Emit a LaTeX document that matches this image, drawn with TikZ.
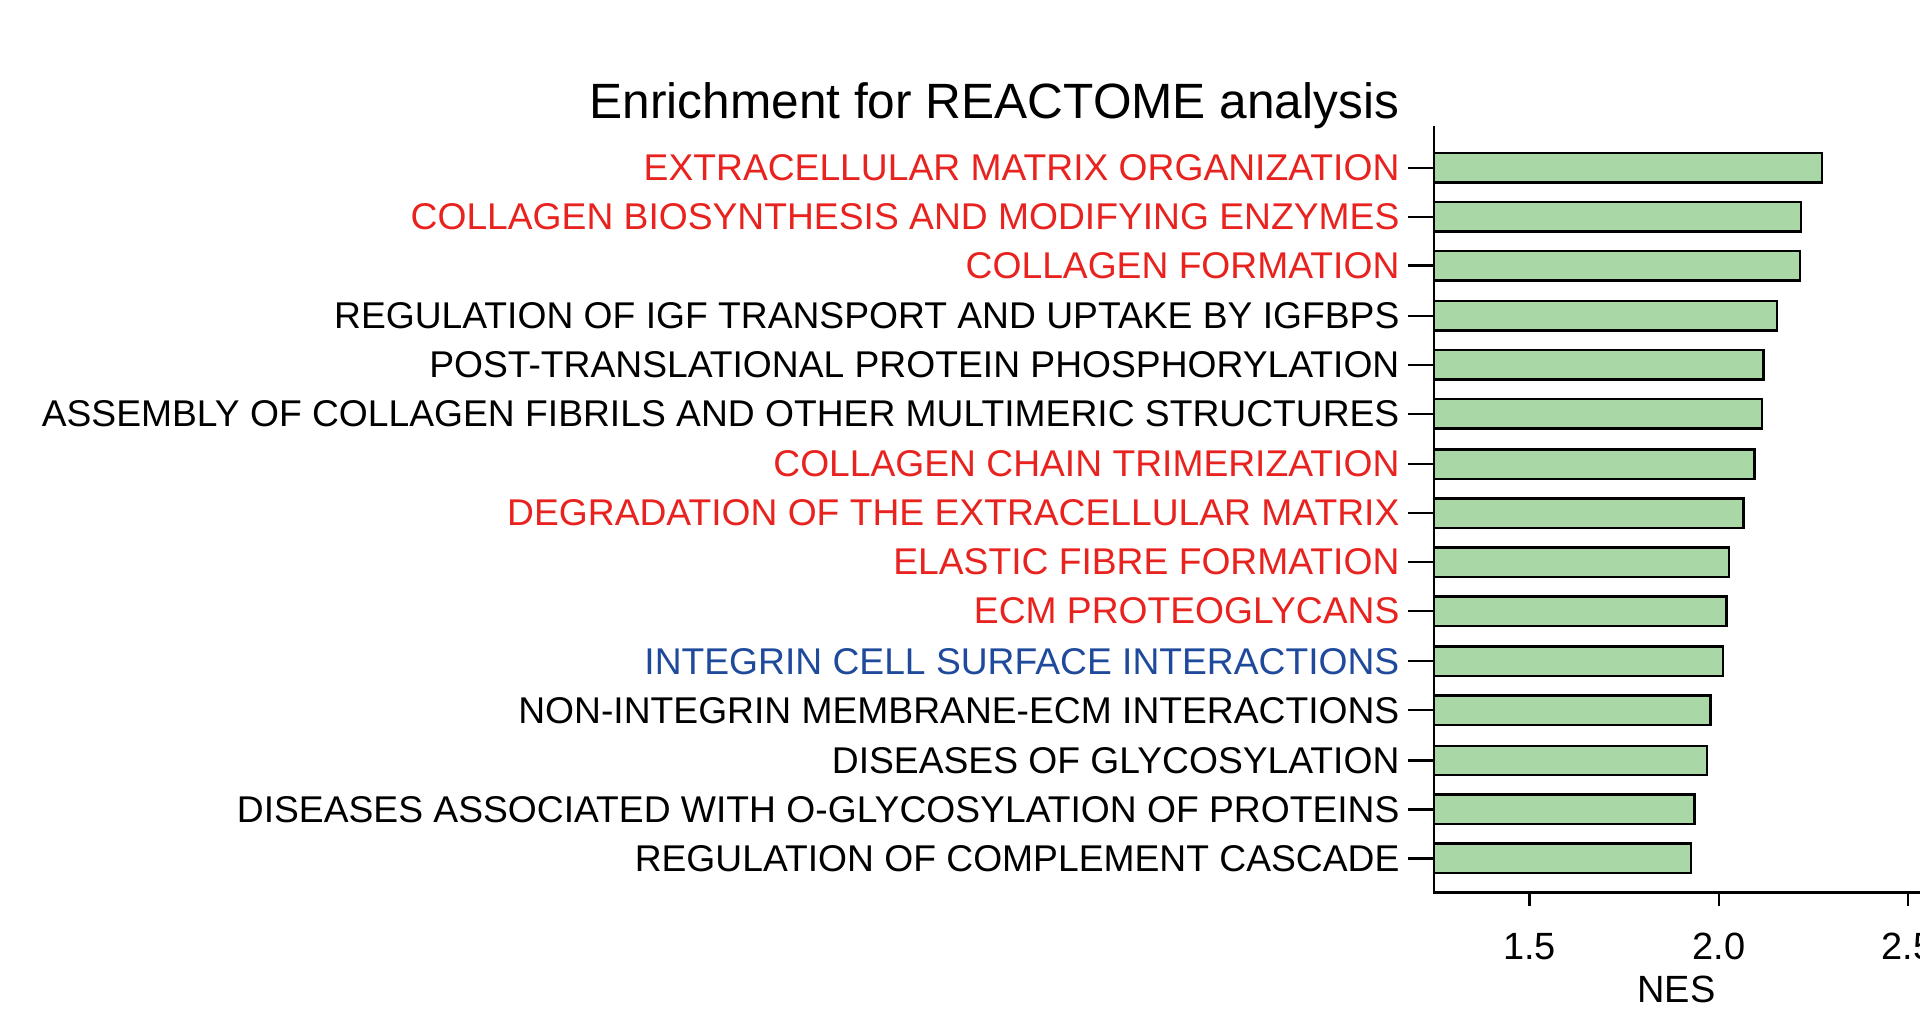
\documentclass[tikz,border=0pt]{standalone}
\usepackage{fontspec}
\setmainfont{Liberation Sans}
\definecolor{barg}{HTML}{A9D8A6}
\definecolor{lred}{HTML}{E8231F}
\definecolor{lblue}{HTML}{1F4A9C}
\tikzset{bar/.style={draw=black,line width=2pt,fill=barg},
lab/.style={anchor=east,font=\fontsize{30.4}{32}\selectfont,inner sep=0pt},
ax/.style={line width=2pt}}
\begin{document}
\begin{tikzpicture}[x=1pt,y=-1pt]
\useasboundingbox (0,0) rectangle (1568,831);
\clip (0,0) rectangle (1568,831);
\node[font=\fontsize{40.5}{44}\selectfont,inner sep=0pt] (title) at (812,86) {Enrichment for REACTOME analysis};
\draw[ax] (1171,103) -- (1171,729) -- (1570,729);
\foreach \x/\t in {1249/1.5,1404/2.0,1558/2.5}{
  \draw[ax] (\x,729) -- (\x,740);
  \node[font=\fontsize{31}{33}\selectfont,inner sep=0pt] at (\x,773) {\t};}
\node[font=\fontsize{31}{33}\selectfont,inner sep=0pt] (nes) at (1369,808) {NES};
\foreach \y/\e/\c/\t [count=\i] in {
137/1488/lred/EXTRACELLULAR MATRIX ORGANIZATION,
177/1471/lred/COLLAGEN BIOSYNTHESIS AND MODIFYING ENZYMES,
217/1470/lred/COLLAGEN FORMATION,
258/1451/black/REGULATION OF IGF TRANSPORT AND UPTAKE BY IGFBPS,
298/1440/black/POST-TRANSLATIONAL PROTEIN PHOSPHORYLATION,
338/1439/black/ASSEMBLY OF COLLAGEN FIBRILS AND OTHER MULTIMERIC STRUCTURES,
379/1433/lred/COLLAGEN CHAIN TRIMERIZATION,
419/1424/lred/DEGRADATION OF THE EXTRACELLULAR MATRIX,
459/1412/lred/ELASTIC FIBRE FORMATION,
499/1410/lred/ECM PROTEOGLYCANS,
540/1407/lblue/INTEGRIN CELL SURFACE INTERACTIONS,
580/1397/black/NON-INTEGRIN MEMBRANE-ECM INTERACTIONS,
621/1394/black/DISEASES OF GLYCOSYLATION,
661/1384/black/DISEASES ASSOCIATED WITH O-GLYCOSYLATION OF PROTEINS,
701/1381/black/REGULATION OF COMPLEMENT CASCADE}{
  \draw[bar] (1171,\y-12) rectangle (\e,\y+12);
  \draw[ax] (1150,\y) -- (1171,\y);
  \node[lab,text=\c] (l\i) at (1143,\y) {\t};}
\end{tikzpicture}
\end{document}
